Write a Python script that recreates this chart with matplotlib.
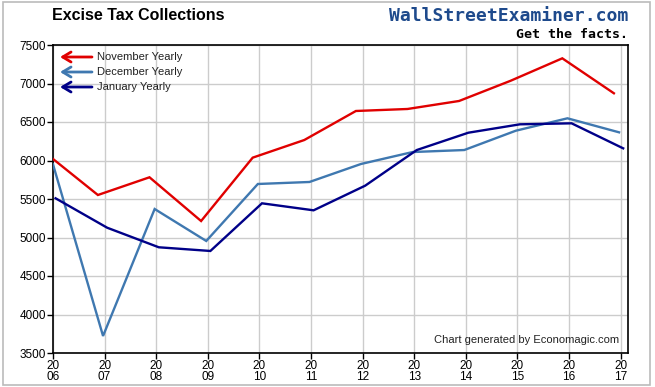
import matplotlib
matplotlib.use("Agg")
import matplotlib.pyplot as plt
from matplotlib.patches import Rectangle
import numpy as np

years = [2006, 2007, 2008, 2009, 2010, 2011, 2012, 2013, 2014, 2015, 2016, 2017]
november = [6020, 5552, 5782, 5214, 6037, 6266, 6643, 6669, 6773, 7036, 7327, 6873]
december = [5950, 3721, 5370, 4955, 5695, 5721, 5955, 6110, 6136, 6387, 6548, 6366]
january = [5509, 5127, 4873, 4825, 5444, 5353, 5673, 6136, 6361, 6470, 6483, 6158]
series_names = ["November Yearly", "December Yearly", "January Yearly"]
yticks = [3500, 4000, 4500, 5000, 5500, 6000, 6500, 7000, 7500]
xlabels = ["20\n%02d" % (y % 100) for y in years]

colors = ["#e00000", "#3f78b0", "#000088"]
offsets = [-0.13, -0.03, 0.05]

W, H = 655, 387
fig = plt.figure(figsize=(W / 100, H / 100), dpi=100)
plt.rcParams['font.family'] = ['Liberation Sans', 'DejaVu Sans']

ax = fig.add_axes([53 / W, (H - 353) / H, (628 - 53) / W, (353 - 45) / H])
xmin, xmax = 2006, 2006 + (628 - 53) / 51.6
yr = np.array(years, dtype=float)
for vals, c, off in zip([november, december, january], colors, offsets):
    xs = np.clip(yr + off, xmin, xmax)
    ax.plot(xs, vals, color=c, lw=1.7, solid_joinstyle='miter', zorder=3)

ax.set_xlim(xmin, xmax)
ax.set_ylim(3500, 7500)
ax.set_xticks(years)
ax.set_xticklabels(xlabels, fontsize=8.5, linespacing=0.85)
ax.set_yticks(yticks)
ax.set_yticklabels([str(v) for v in yticks], fontsize=8.5)
ax.tick_params(direction='out', length=4, width=1, color='black', pad=1)
ax.grid(True, color='#cccccc', lw=1)
ax.set_axisbelow(True)
for s in ax.spines.values():
    s.set_color('black')
    s.set_linewidth(1.2)

ax.text(0.985, 0.025, "Chart generated by Economagic.com", transform=ax.transAxes,
        ha='right', va='bottom', fontsize=8, color='#222222')

# legend with left arrows
for i, (name, c) in enumerate(zip(series_names, colors)):
    yp = H - (57 + 15 * i)
    ax.annotate("", xy=(60, yp), xytext=(92, yp), xycoords='figure pixels',
                textcoords='figure pixels',
                arrowprops=dict(arrowstyle='->,head_length=0.5,head_width=0.3',
                                lw=2, color=c, mutation_scale=12,
                                shrinkA=0, shrinkB=0))
    fig.text(97 / W, yp / H, name, fontsize=8, va='center', ha='left', color='#222222')

fig.text(52 / W, (H - 16) / H, "Excise Tax Collections", fontsize=11.5,
         fontweight='bold', va='center', ha='left')
fig.text(628 / W, (H - 16) / H, "WallStreetExaminer.com", fontsize=13,
         fontweight='bold', family='DejaVu Sans Mono', color='#1e4a8c',
         va='center', ha='right')
fig.text(628 / W, (H - 34) / H, "Get the facts.", fontsize=9.5,
         fontweight='bold', family='DejaVu Sans Mono', color='black',
         va='center', ha='right')

fig.patches.append(Rectangle((3 / W, 2 / H), (650 - 3) / W, (385 - 2) / H,
                             transform=fig.transFigure, fill=False,
                             edgecolor='#bbbbbb', lw=1.2))

fig.savefig("out.png", dpi=100)
